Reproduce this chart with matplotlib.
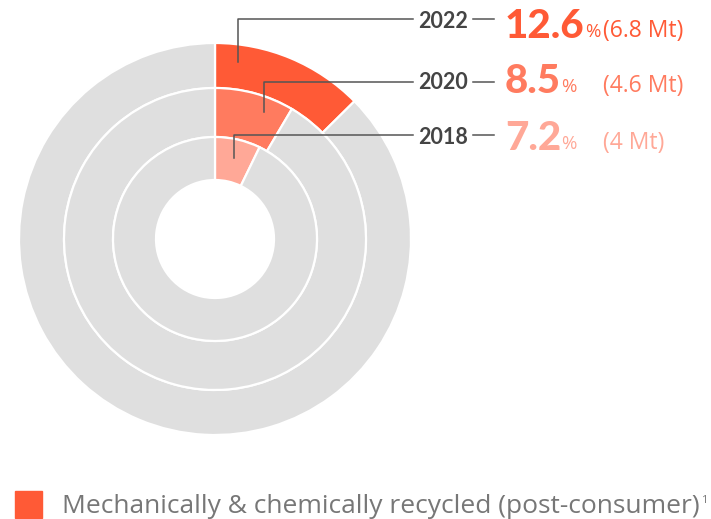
import matplotlib.pyplot as plt
from matplotlib.patches import Rectangle

years = ['2022', '2020', '2018']
shares = [12.6, 8.5, 7.2]
tonnes = ['(6.8 Mt)', '(4.6 Mt)', '(4 Mt)']
legend_label = 'Mechanically & chemically recycled (post-consumer)'

colors = ['#ff5a36', '#ff7b5f', '#ffa897']
grey = '#dfdfdf'
dark = '#444444'

# ring geometry in pixels: (outer radius, ring width), outer ring first
rings = [(196, 45), (151, 49), (102, 43)]
center = (215, 239)

# leader lines: x on ring, y on ring, y of label row
leaders = [(238, 62, 19), (264, 112, 82), (234, 158, 135)]
year_base = [28, 89, 144]
num_base = [38, 93, 150]

W, H = 711, 519
fig = plt.figure(figsize=(W / 100, H / 100), dpi=100)
ax = fig.add_axes([0, 0, 1, 1])

for (r, w), share, col in zip(rings, shares, colors):
    ax.pie([share, 100 - share], colors=[col, grey], radius=r, center=center,
           startangle=-90, counterclock=True,
           wedgeprops=dict(width=w, edgecolor='white', linewidth=1.6))

ax.set_xlim(0, W)
ax.set_ylim(H, 0)
ax.set_aspect('equal')
ax.axis('off')

fam = 'Lato'
fam2 = 'Open Sans'
num_texts = []
for i in range(3):
    lx, ly, ty = leaders[i]
    ax.plot([lx, lx, 413], [ly, ty, ty], color='#555555', lw=1.1)
    ax.plot([473, 494], [ty, ty], color='#555555', lw=1.1)
    ax.text(468, year_base[i], years[i], ha='right', va='baseline',
            fontsize=15.5, fontweight='bold', color=dark, family=fam)
    t = ax.text(505, num_base[i], f'{shares[i]}', ha='left', va='baseline',
                fontsize=29, fontweight='black', color=colors[i], family=fam)
    num_texts.append(t)
    ax.text(603, num_base[i] - 1, tonnes[i], ha='left', va='baseline',
            fontsize=16.5, color=colors[i], family=fam2)

fig.canvas.draw()
renderer = fig.canvas.get_renderer()
inv = ax.transData.inverted()
for i, t in enumerate(num_texts):
    bb = t.get_window_extent(renderer)
    x_end = inv.transform((bb.x1, bb.y0))[0]
    ax.text(x_end, num_base[i] - 1, '%', ha='left', va='baseline',
            fontsize=13.5, color=colors[i], family=fam2)

# legend
ax.add_patch(Rectangle((15, 491), 27, 27, color=colors[0]))
lt = ax.text(62, 513, legend_label, ha='left', va='baseline',
             fontsize=19, color='#777777', family=fam2)
fig.canvas.draw()
bb = lt.get_window_extent(renderer)
x_end = inv.transform((bb.x1, bb.y0))[0]
ax.text(x_end + 1, 503, '1', ha='left', va='baseline',
        fontsize=8, color='#777777', family=fam2)

fig.savefig('out.png', dpi=100)
